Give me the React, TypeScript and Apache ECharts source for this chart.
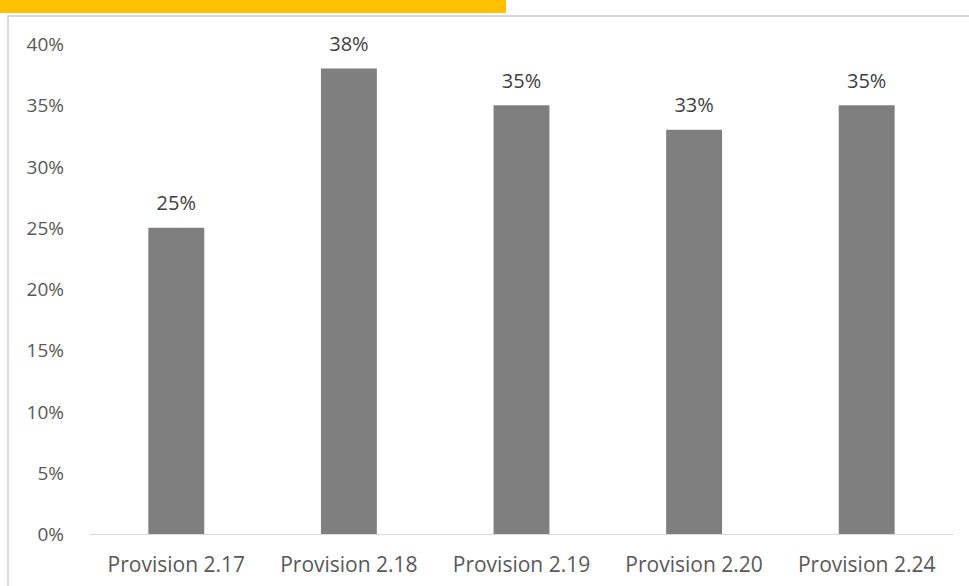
import React, { useEffect, useRef } from "react";
import * as echarts from "echarts";

const categories = ["Provision 2.17", "Provision 2.18", "Provision 2.19", "Provision 2.20", "Provision 2.24"];
const values = [25, 38, 35, 33, 35];
const yTicks = [0, 5, 10, 15, 20, 25, 30, 35, 40];

const FONT = "'Open Sans', sans-serif";

export default function App() {
  const ref = useRef<HTMLDivElement>(null);
  useEffect(() => {
    if (!ref.current) return;
    const chart = echarts.init(ref.current, undefined, { renderer: "svg" });
    chart.setOption({
      animation: false,
      backgroundColor: "#ffffff",
      grid: { left: 90, right: 16, top: 44, bottom: 52, containLabel: false },
      xAxis: {
        type: "category",
        data: categories,
        axisLine: { show: true, lineStyle: { color: "#d9d9d9", width: 1 } },
        axisTick: { show: false },
        axisLabel: { color: "#595959", fontSize: 21, fontFamily: FONT, margin: 19, interval: 0, hideOverlap: false },
      },
      yAxis: {
        type: "value",
        min: yTicks[0],
        max: yTicks[yTicks.length - 1],
        interval: 5,
        splitLine: { show: false },
        axisLine: { show: false },
        axisTick: { show: false },
        axisLabel: {
          color: "#595959",
          fontSize: 19,
          fontFamily: FONT,
          margin: 26,
          formatter: (v: number) => `${v}%`,
        },
      },
      series: [
        {
          type: "bar",
          data: values,
          barWidth: "32.4%",
          itemStyle: { color: "#7f7f7f" },
          label: {
            show: true,
            position: "top",
            distance: 15,
            color: "#404040",
            fontSize: 20,
            fontFamily: FONT,
            formatter: (p: any) => `${p.value}%`,
          },
        },
      ],
      graphic: [
        { type: "rect", shape: { x: 0, y: 0, width: 506, height: 13 }, style: { fill: "#ffc000" } },
        { type: "line", shape: { x1: 8, y1: 16, x2: 969, y2: 16 }, style: { stroke: "#d9d9d9", lineWidth: 2 } },
        { type: "line", shape: { x1: 8, y1: 15, x2: 8, y2: 586 }, style: { stroke: "#d9d9d9", lineWidth: 2 } },
      ],
    });
    return () => chart.dispose();
  }, []);
  return (
    <div
      ref={ref}
      style={{ position: "absolute", left: 0, top: 0, width: 969, height: 586 }}
    />
  );
}
